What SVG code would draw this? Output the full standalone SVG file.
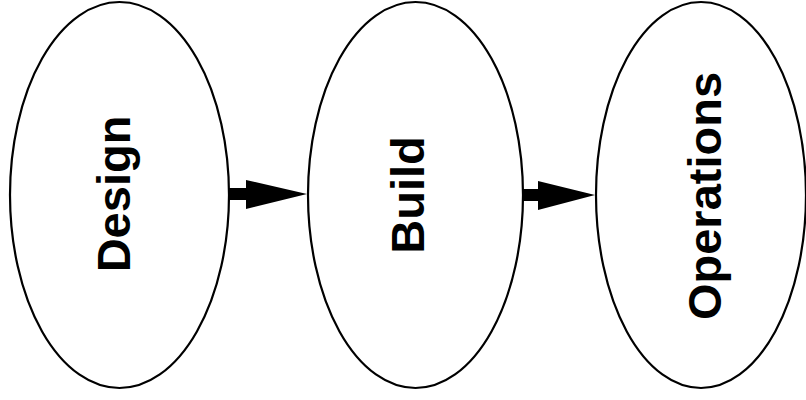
<svg xmlns="http://www.w3.org/2000/svg" width="806" height="400" viewBox="0 0 806 400">
<style>
.node ellipse{fill:#fff;stroke:#000;stroke-width:2.2}
.node text{font-family:"Liberation Sans",Arial,sans-serif;font-weight:bold;font-size:47px;fill:#000;text-anchor:middle}
.conn polygon{fill:#000;stroke:none}
</style>
<rect width="806" height="400" fill="#fff"/>
<g id="design" class="node">
<ellipse cx="119.5" cy="195" rx="109.5" ry="193"/>
<text transform="translate(130,194) rotate(-90)">Design</text>
</g>
<g id="build" class="node">
<ellipse cx="415.5" cy="195" rx="107.5" ry="193"/>
<text transform="translate(424,195) rotate(-90)">Build</text>
</g>
<g id="operations" class="node">
<ellipse cx="701" cy="195" rx="105" ry="193"/>
<text transform="translate(721,196) rotate(-90)">Operations</text>
</g>
<g id="connectors" class="conn">
<polygon points="228,188 246,188 246,180 307,194 246,209 246,200 228,200"/>
<polygon points="523,189 538,189 538,181 595,195 538,210 538,201 523,201"/>
</g>
</svg>
